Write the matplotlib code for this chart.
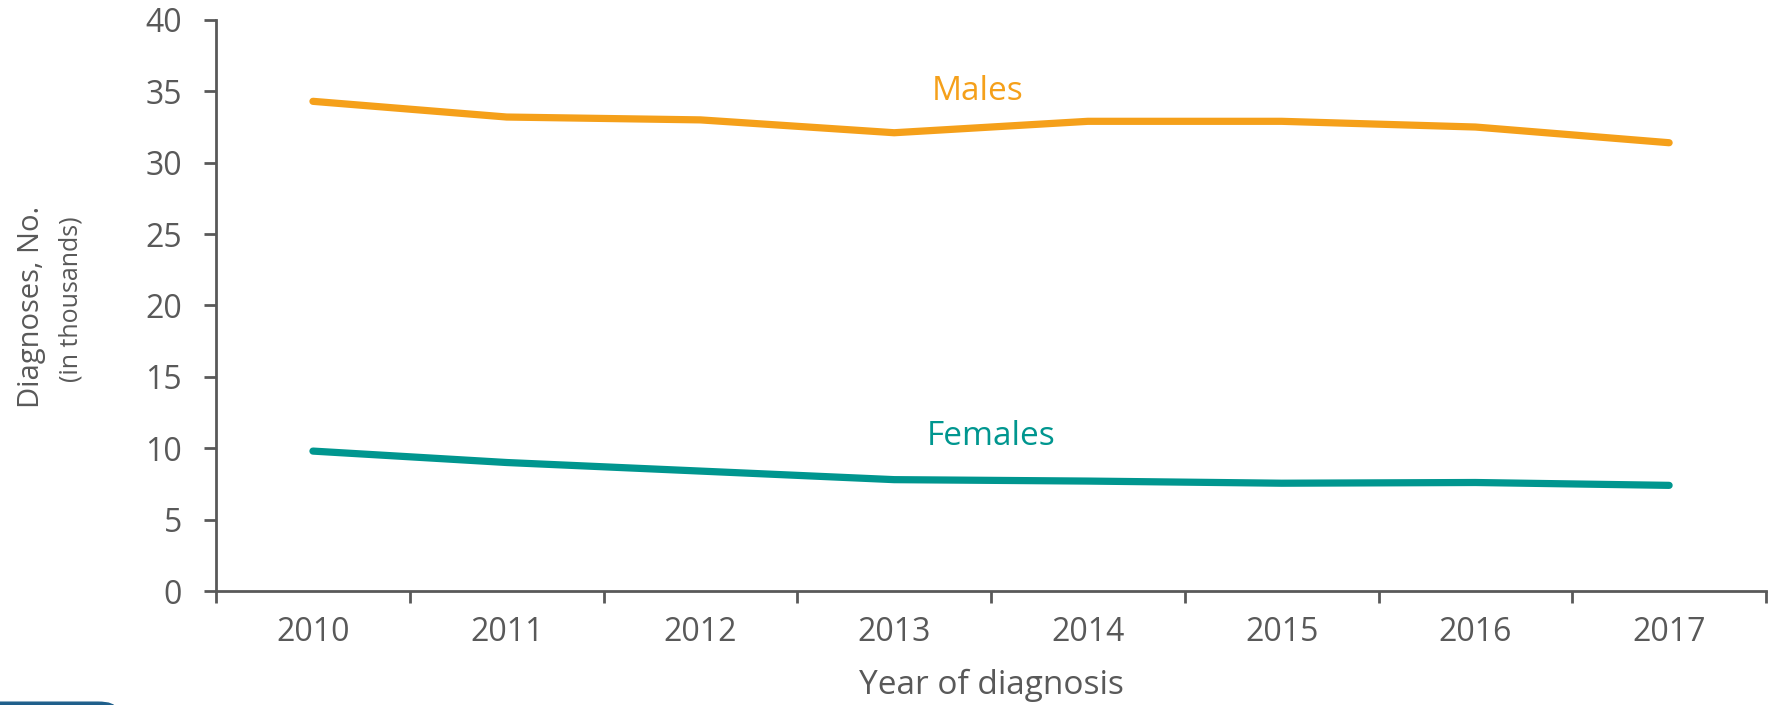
import matplotlib
matplotlib.use('Agg')
import matplotlib.pyplot as plt
from matplotlib.patches import FancyBboxPatch
from matplotlib.ticker import FixedLocator, NullFormatter

years = [2010, 2011, 2012, 2013, 2014, 2015, 2016, 2017]
males = [34.3, 33.2, 33.0, 32.1, 32.9, 32.9, 32.5, 31.4]
females = [9.8, 9.0, 8.4, 7.8, 7.7, 7.55, 7.6, 7.4]

orange = '#F5A01A'
teal = '#00968F'
grey = '#595959'

plt.rcParams['font.family'] = ['Open Sans', 'DejaVu Sans']

fig = plt.figure(figsize=(17.77, 7.05), dpi=100)
ax = fig.add_axes([0.1216, 0.1617, 0.8722, 0.81])

ax.plot(years, males, color=orange, lw=5.2, solid_capstyle='round')
ax.plot(years, females, color=teal, lw=5.2, solid_capstyle='round')

ax.text(2013.43, 35.0, 'Males', color=orange, fontsize=24, ha='center', va='center')
ax.text(2013.5, 10.8, 'Females', color=teal, fontsize=24, ha='center', va='center')

ax.set_xlim(years[0] - 0.5, years[-1] + 0.5)
ax.set_ylim(0, 40)
ax.set_yticks(range(0, 41, 5))

# category axis: ticks between years, labels at the centres
ax.xaxis.set_major_locator(FixedLocator([y - 0.5 for y in years] + [years[-1] + 0.5]))
ax.xaxis.set_major_formatter(NullFormatter())
ax.xaxis.set_minor_locator(FixedLocator(years))
ax.set_xticklabels([str(y) for y in years], minor=True)
ax.tick_params(axis='x', which='major', length=8.5, width=2, color=grey, direction='out')
ax.tick_params(axis='x', which='minor', length=0, pad=18, labelsize=23, labelcolor=grey)
ax.tick_params(axis='y', length=8.5, width=2, color=grey, pad=16, labelsize=23, labelcolor=grey)

for side in ['top', 'right']:
    ax.spines[side].set_visible(False)
for side in ['left', 'bottom']:
    ax.spines[side].set_color(grey)
    ax.spines[side].set_linewidth(2)

ax.set_xlabel('Year of diagnosis', fontsize=24, color=grey, labelpad=14)

fig.text(0.018, 0.565, 'Diagnoses, No.', rotation=90, fontsize=21, color=grey,
         ha='center', va='center')
fig.text(0.040, 0.575, '(in thousands)', rotation=90, fontsize=18, color=grey,
         ha='center', va='center')

# partial badge peeking in at the bottom-left corner
fig.patches.append(FancyBboxPatch((-0.01, -0.03), 0.075, 0.034, boxstyle='round,pad=0,rounding_size=0.01',
                                  transform=fig.transFigure, color='#1F5F8B', figure=fig))

fig.savefig('out.png', dpi=100)
